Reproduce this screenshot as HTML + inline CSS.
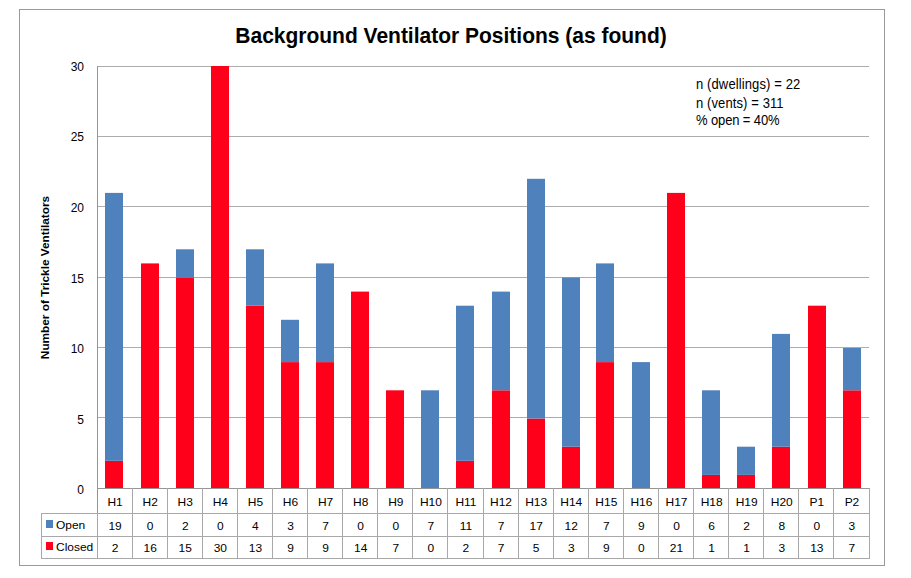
<!DOCTYPE html><html><head><meta charset="utf-8"><style>html,body{margin:0;padding:0;background:#fff;}svg{display:block;}text{font-family:"Liberation Sans",sans-serif;fill:#000;}</style></head><body>
<svg width="911" height="578" viewBox="0 0 911 578">
<rect x="0" y="0" width="911" height="578" fill="#fff"/>
<rect x="19.5" y="9.5" width="865" height="556" fill="none" stroke="#9a9a9a" stroke-width="1"/>
<line x1="97" y1="66.5" x2="869" y2="66.5" stroke="#acacac" stroke-width="1"/>
<line x1="97" y1="136.5" x2="869" y2="136.5" stroke="#acacac" stroke-width="1"/>
<line x1="97" y1="206.5" x2="869" y2="206.5" stroke="#acacac" stroke-width="1"/>
<line x1="97" y1="277.5" x2="869" y2="277.5" stroke="#acacac" stroke-width="1"/>
<line x1="97" y1="347.5" x2="869" y2="347.5" stroke="#acacac" stroke-width="1"/>
<line x1="97" y1="417.5" x2="869" y2="417.5" stroke="#acacac" stroke-width="1"/>
<rect x="105" y="460.80" width="18" height="28.20" fill="#ff001a"/>
<rect x="105" y="192.90" width="18" height="267.90" fill="#4f81bd"/>
<rect x="141" y="263.40" width="18" height="225.60" fill="#ff001a"/>
<rect x="176" y="277.50" width="18" height="211.50" fill="#ff001a"/>
<rect x="176" y="249.30" width="18" height="28.20" fill="#4f81bd"/>
<rect x="211" y="66.00" width="18" height="423.00" fill="#ff001a"/>
<rect x="246" y="305.70" width="18" height="183.30" fill="#ff001a"/>
<rect x="246" y="249.30" width="18" height="56.40" fill="#4f81bd"/>
<rect x="281" y="362.10" width="18" height="126.90" fill="#ff001a"/>
<rect x="281" y="319.80" width="18" height="42.30" fill="#4f81bd"/>
<rect x="316" y="362.10" width="18" height="126.90" fill="#ff001a"/>
<rect x="316" y="263.40" width="18" height="98.70" fill="#4f81bd"/>
<rect x="351" y="291.60" width="18" height="197.40" fill="#ff001a"/>
<rect x="386" y="390.30" width="18" height="98.70" fill="#ff001a"/>
<rect x="421" y="390.30" width="18" height="98.70" fill="#4f81bd"/>
<rect x="456" y="460.80" width="18" height="28.20" fill="#ff001a"/>
<rect x="456" y="305.70" width="18" height="155.10" fill="#4f81bd"/>
<rect x="492" y="390.30" width="18" height="98.70" fill="#ff001a"/>
<rect x="492" y="291.60" width="18" height="98.70" fill="#4f81bd"/>
<rect x="527" y="418.50" width="18" height="70.50" fill="#ff001a"/>
<rect x="527" y="178.80" width="18" height="239.70" fill="#4f81bd"/>
<rect x="562" y="446.70" width="18" height="42.30" fill="#ff001a"/>
<rect x="562" y="277.50" width="18" height="169.20" fill="#4f81bd"/>
<rect x="596" y="362.10" width="18" height="126.90" fill="#ff001a"/>
<rect x="596" y="263.40" width="18" height="98.70" fill="#4f81bd"/>
<rect x="632" y="362.10" width="18" height="126.90" fill="#4f81bd"/>
<rect x="667" y="192.90" width="18" height="296.10" fill="#ff001a"/>
<rect x="702" y="474.90" width="18" height="14.10" fill="#ff001a"/>
<rect x="702" y="390.30" width="18" height="84.60" fill="#4f81bd"/>
<rect x="737" y="474.90" width="18" height="14.10" fill="#ff001a"/>
<rect x="737" y="446.70" width="18" height="28.20" fill="#4f81bd"/>
<rect x="772" y="446.70" width="18" height="42.30" fill="#ff001a"/>
<rect x="772" y="333.90" width="18" height="112.80" fill="#4f81bd"/>
<rect x="808" y="305.70" width="18" height="183.30" fill="#ff001a"/>
<rect x="843" y="390.30" width="18" height="98.70" fill="#ff001a"/>
<rect x="843" y="348.00" width="18" height="42.30" fill="#4f81bd"/>
<line x1="97" y1="488.5" x2="870" y2="488.5" stroke="#959595" stroke-width="1"/>
<line x1="97.5" y1="66" x2="97.5" y2="513" stroke="#959595" stroke-width="1"/>
<line x1="41" y1="513.5" x2="870" y2="513.5" stroke="#a8a8a8"/>
<line x1="41" y1="536.5" x2="870" y2="536.5" stroke="#a8a8a8"/>
<line x1="41" y1="558.5" x2="870" y2="558.5" stroke="#a8a8a8"/>
<line x1="41.5" y1="513" x2="41.5" y2="559" stroke="#a8a8a8"/>
<line x1="97.5" y1="513" x2="97.5" y2="559" stroke="#a8a8a8"/>
<line x1="132.5" y1="488" x2="132.5" y2="559" stroke="#a8a8a8"/>
<line x1="167.5" y1="488" x2="167.5" y2="559" stroke="#a8a8a8"/>
<line x1="202.5" y1="488" x2="202.5" y2="559" stroke="#a8a8a8"/>
<line x1="237.5" y1="488" x2="237.5" y2="559" stroke="#a8a8a8"/>
<line x1="272.5" y1="488" x2="272.5" y2="559" stroke="#a8a8a8"/>
<line x1="307.5" y1="488" x2="307.5" y2="559" stroke="#a8a8a8"/>
<line x1="342.5" y1="488" x2="342.5" y2="559" stroke="#a8a8a8"/>
<line x1="377.5" y1="488" x2="377.5" y2="559" stroke="#a8a8a8"/>
<line x1="412.5" y1="488" x2="412.5" y2="559" stroke="#a8a8a8"/>
<line x1="447.5" y1="488" x2="447.5" y2="559" stroke="#a8a8a8"/>
<line x1="483.5" y1="488" x2="483.5" y2="559" stroke="#a8a8a8"/>
<line x1="518.5" y1="488" x2="518.5" y2="559" stroke="#a8a8a8"/>
<line x1="553.5" y1="488" x2="553.5" y2="559" stroke="#a8a8a8"/>
<line x1="588.5" y1="488" x2="588.5" y2="559" stroke="#a8a8a8"/>
<line x1="623.5" y1="488" x2="623.5" y2="559" stroke="#a8a8a8"/>
<line x1="658.5" y1="488" x2="658.5" y2="559" stroke="#a8a8a8"/>
<line x1="693.5" y1="488" x2="693.5" y2="559" stroke="#a8a8a8"/>
<line x1="728.5" y1="488" x2="728.5" y2="559" stroke="#a8a8a8"/>
<line x1="763.5" y1="488" x2="763.5" y2="559" stroke="#a8a8a8"/>
<line x1="798.5" y1="488" x2="798.5" y2="559" stroke="#a8a8a8"/>
<line x1="833.5" y1="488" x2="833.5" y2="559" stroke="#a8a8a8"/>
<line x1="869.5" y1="488" x2="869.5" y2="559" stroke="#a8a8a8"/>
<rect x="46" y="520" width="7" height="8" fill="#4f81bd"/>
<rect x="46" y="542" width="7" height="8" fill="#ff001a"/>
<text transform="translate(56,528.5) scale(1.04,1)" font-size="11.5">Open</text>
<text transform="translate(56,551) scale(1.04,1)" font-size="11.5">Closed</text>
<text transform="translate(115.05,506) scale(1.04,1)" font-size="11.5" text-anchor="middle">H1</text>
<text transform="translate(115.05,530) scale(1.04,1)" font-size="11.5" text-anchor="middle">19</text>
<text transform="translate(115.05,552.2) scale(1.04,1)" font-size="11.5" text-anchor="middle">2</text>
<text transform="translate(150.14,506) scale(1.04,1)" font-size="11.5" text-anchor="middle">H2</text>
<text transform="translate(150.14,530) scale(1.04,1)" font-size="11.5" text-anchor="middle">0</text>
<text transform="translate(150.14,552.2) scale(1.04,1)" font-size="11.5" text-anchor="middle">16</text>
<text transform="translate(185.23,506) scale(1.04,1)" font-size="11.5" text-anchor="middle">H3</text>
<text transform="translate(185.23,530) scale(1.04,1)" font-size="11.5" text-anchor="middle">2</text>
<text transform="translate(185.23,552.2) scale(1.04,1)" font-size="11.5" text-anchor="middle">15</text>
<text transform="translate(220.32,506) scale(1.04,1)" font-size="11.5" text-anchor="middle">H4</text>
<text transform="translate(220.32,530) scale(1.04,1)" font-size="11.5" text-anchor="middle">0</text>
<text transform="translate(220.32,552.2) scale(1.04,1)" font-size="11.5" text-anchor="middle">30</text>
<text transform="translate(255.41,506) scale(1.04,1)" font-size="11.5" text-anchor="middle">H5</text>
<text transform="translate(255.41,530) scale(1.04,1)" font-size="11.5" text-anchor="middle">4</text>
<text transform="translate(255.41,552.2) scale(1.04,1)" font-size="11.5" text-anchor="middle">13</text>
<text transform="translate(290.50,506) scale(1.04,1)" font-size="11.5" text-anchor="middle">H6</text>
<text transform="translate(290.50,530) scale(1.04,1)" font-size="11.5" text-anchor="middle">3</text>
<text transform="translate(290.50,552.2) scale(1.04,1)" font-size="11.5" text-anchor="middle">9</text>
<text transform="translate(325.59,506) scale(1.04,1)" font-size="11.5" text-anchor="middle">H7</text>
<text transform="translate(325.59,530) scale(1.04,1)" font-size="11.5" text-anchor="middle">7</text>
<text transform="translate(325.59,552.2) scale(1.04,1)" font-size="11.5" text-anchor="middle">9</text>
<text transform="translate(360.68,506) scale(1.04,1)" font-size="11.5" text-anchor="middle">H8</text>
<text transform="translate(360.68,530) scale(1.04,1)" font-size="11.5" text-anchor="middle">0</text>
<text transform="translate(360.68,552.2) scale(1.04,1)" font-size="11.5" text-anchor="middle">14</text>
<text transform="translate(395.77,506) scale(1.04,1)" font-size="11.5" text-anchor="middle">H9</text>
<text transform="translate(395.77,530) scale(1.04,1)" font-size="11.5" text-anchor="middle">0</text>
<text transform="translate(395.77,552.2) scale(1.04,1)" font-size="11.5" text-anchor="middle">7</text>
<text transform="translate(430.86,506) scale(1.04,1)" font-size="11.5" text-anchor="middle">H10</text>
<text transform="translate(430.86,530) scale(1.04,1)" font-size="11.5" text-anchor="middle">7</text>
<text transform="translate(430.86,552.2) scale(1.04,1)" font-size="11.5" text-anchor="middle">0</text>
<text transform="translate(465.95,506) scale(1.04,1)" font-size="11.5" text-anchor="middle">H11</text>
<text transform="translate(465.95,530) scale(1.04,1)" font-size="11.5" text-anchor="middle">11</text>
<text transform="translate(465.95,552.2) scale(1.04,1)" font-size="11.5" text-anchor="middle">2</text>
<text transform="translate(501.05,506) scale(1.04,1)" font-size="11.5" text-anchor="middle">H12</text>
<text transform="translate(501.05,530) scale(1.04,1)" font-size="11.5" text-anchor="middle">7</text>
<text transform="translate(501.05,552.2) scale(1.04,1)" font-size="11.5" text-anchor="middle">7</text>
<text transform="translate(536.14,506) scale(1.04,1)" font-size="11.5" text-anchor="middle">H13</text>
<text transform="translate(536.14,530) scale(1.04,1)" font-size="11.5" text-anchor="middle">17</text>
<text transform="translate(536.14,552.2) scale(1.04,1)" font-size="11.5" text-anchor="middle">5</text>
<text transform="translate(571.23,506) scale(1.04,1)" font-size="11.5" text-anchor="middle">H14</text>
<text transform="translate(571.23,530) scale(1.04,1)" font-size="11.5" text-anchor="middle">12</text>
<text transform="translate(571.23,552.2) scale(1.04,1)" font-size="11.5" text-anchor="middle">3</text>
<text transform="translate(606.32,506) scale(1.04,1)" font-size="11.5" text-anchor="middle">H15</text>
<text transform="translate(606.32,530) scale(1.04,1)" font-size="11.5" text-anchor="middle">7</text>
<text transform="translate(606.32,552.2) scale(1.04,1)" font-size="11.5" text-anchor="middle">9</text>
<text transform="translate(641.41,506) scale(1.04,1)" font-size="11.5" text-anchor="middle">H16</text>
<text transform="translate(641.41,530) scale(1.04,1)" font-size="11.5" text-anchor="middle">9</text>
<text transform="translate(641.41,552.2) scale(1.04,1)" font-size="11.5" text-anchor="middle">0</text>
<text transform="translate(676.50,506) scale(1.04,1)" font-size="11.5" text-anchor="middle">H17</text>
<text transform="translate(676.50,530) scale(1.04,1)" font-size="11.5" text-anchor="middle">0</text>
<text transform="translate(676.50,552.2) scale(1.04,1)" font-size="11.5" text-anchor="middle">21</text>
<text transform="translate(711.59,506) scale(1.04,1)" font-size="11.5" text-anchor="middle">H18</text>
<text transform="translate(711.59,530) scale(1.04,1)" font-size="11.5" text-anchor="middle">6</text>
<text transform="translate(711.59,552.2) scale(1.04,1)" font-size="11.5" text-anchor="middle">1</text>
<text transform="translate(746.68,506) scale(1.04,1)" font-size="11.5" text-anchor="middle">H19</text>
<text transform="translate(746.68,530) scale(1.04,1)" font-size="11.5" text-anchor="middle">2</text>
<text transform="translate(746.68,552.2) scale(1.04,1)" font-size="11.5" text-anchor="middle">1</text>
<text transform="translate(781.77,506) scale(1.04,1)" font-size="11.5" text-anchor="middle">H20</text>
<text transform="translate(781.77,530) scale(1.04,1)" font-size="11.5" text-anchor="middle">8</text>
<text transform="translate(781.77,552.2) scale(1.04,1)" font-size="11.5" text-anchor="middle">3</text>
<text transform="translate(816.86,506) scale(1.04,1)" font-size="11.5" text-anchor="middle">P1</text>
<text transform="translate(816.86,530) scale(1.04,1)" font-size="11.5" text-anchor="middle">0</text>
<text transform="translate(816.86,552.2) scale(1.04,1)" font-size="11.5" text-anchor="middle">13</text>
<text transform="translate(851.95,506) scale(1.04,1)" font-size="11.5" text-anchor="middle">P2</text>
<text transform="translate(851.95,530) scale(1.04,1)" font-size="11.5" text-anchor="middle">3</text>
<text transform="translate(851.95,552.2) scale(1.04,1)" font-size="11.5" text-anchor="middle">7</text>
<text x="84" y="70.80" font-size="12" text-anchor="end">30</text>
<text x="84" y="141.38" font-size="12" text-anchor="end">25</text>
<text x="84" y="211.96" font-size="12" text-anchor="end">20</text>
<text x="84" y="282.54" font-size="12" text-anchor="end">15</text>
<text x="84" y="353.12" font-size="12" text-anchor="end">10</text>
<text x="84" y="423.70" font-size="12" text-anchor="end">5</text>
<text x="84" y="494.28" font-size="12" text-anchor="end">0</text>
<text transform="translate(48.7,277.5) rotate(-90)" font-size="11.8" font-weight="bold" text-anchor="middle">Number of Trickle Ventilators</text>
<text transform="translate(451,42.7) scale(1,1.05)" font-size="21" font-weight="bold" text-anchor="middle">Background Ventilator Positions (as found)</text>
<text transform="translate(696,89.2) scale(1,1.07)" font-size="13" textLength="104.3" lengthAdjust="spacing">n (dwellings) = 22</text>
<text transform="translate(696,107.7) scale(1,1.07)" font-size="13" textLength="87.6" lengthAdjust="spacing">n (vents) = 311</text>
<text transform="translate(696,125.4) scale(1,1.07)" font-size="13" textLength="83.6" lengthAdjust="spacing">% open = 40%</text>
</svg></body></html>
